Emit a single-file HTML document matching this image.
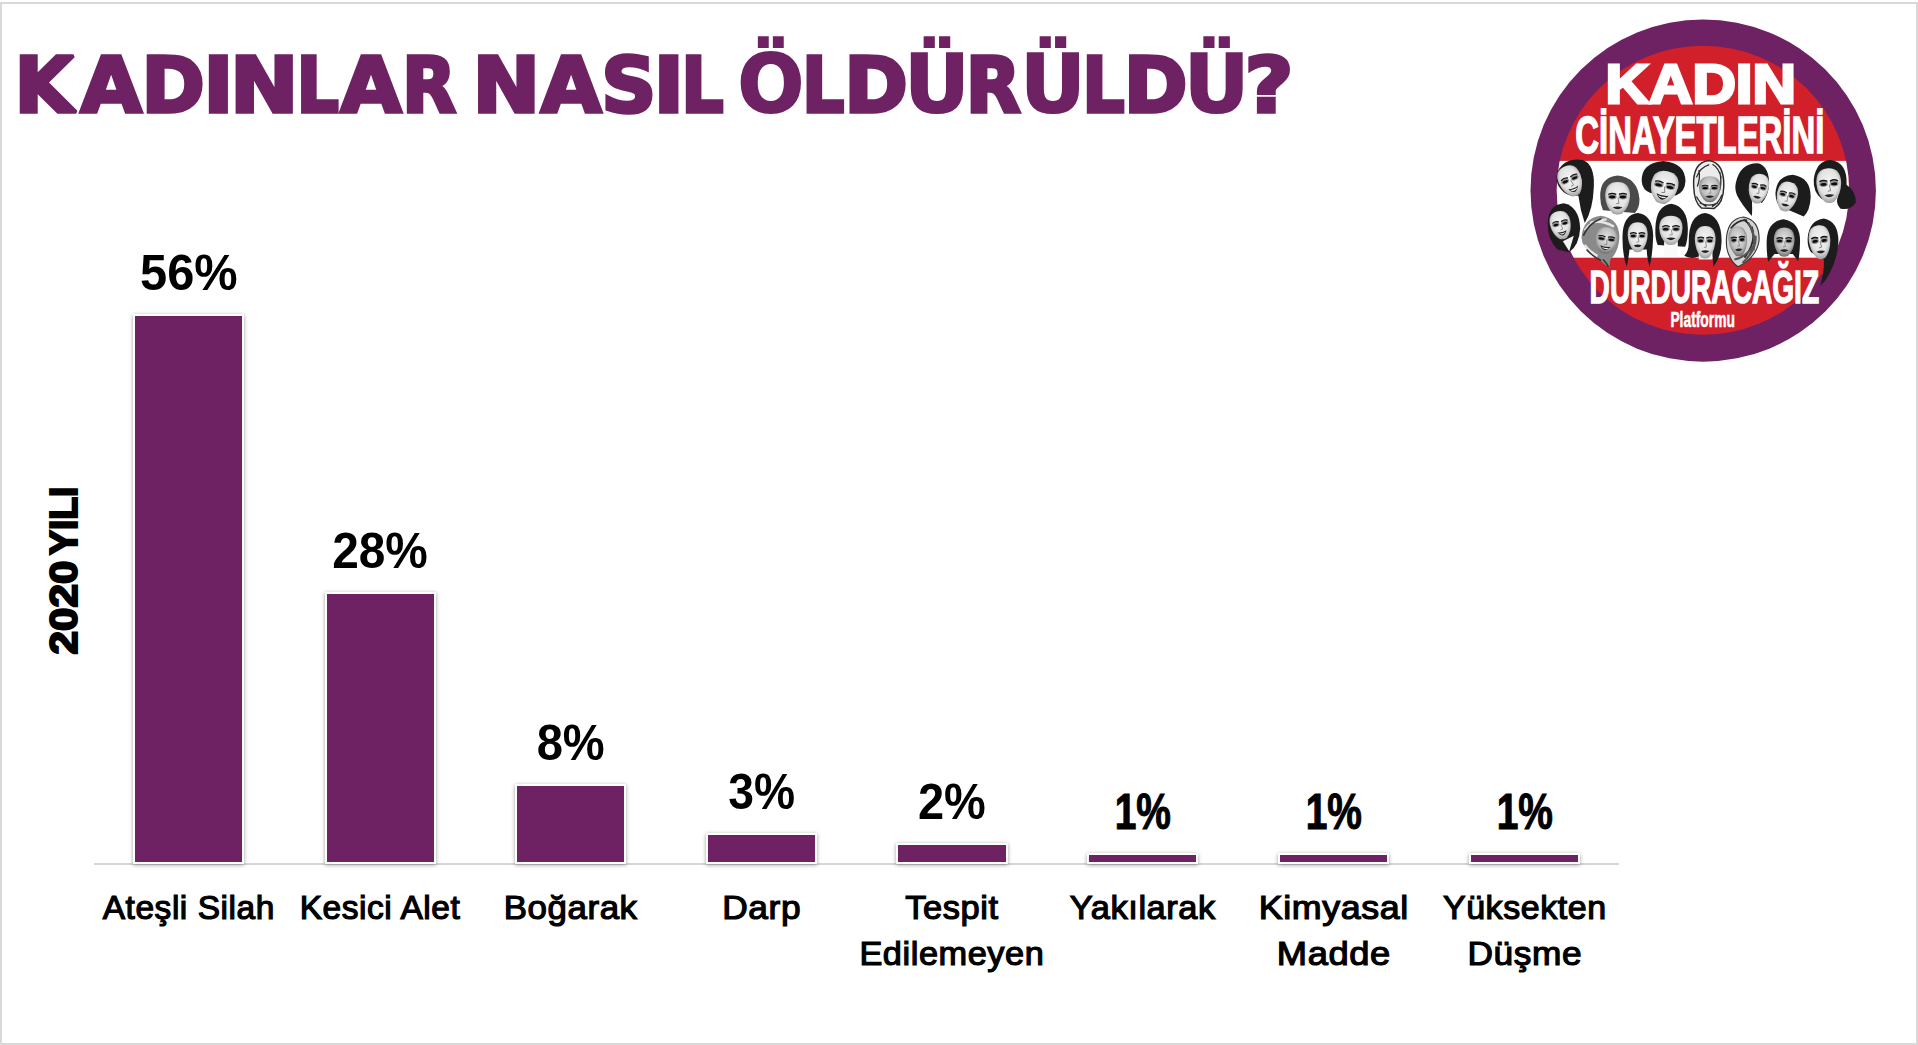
<!DOCTYPE html>
<html lang="tr"><head><meta charset="utf-8"><title>KADINLAR NASIL ÖLDÜRÜLDÜ?</title>
<style>
html,body{margin:0;padding:0;background:#fff;}
body{width:1918px;height:1045px;position:relative;overflow:hidden;font-family:"Liberation Sans",sans-serif;}
.frame{position:absolute;left:0;top:2px;width:1914px;height:1039px;border:2px solid #d9d9d9;}
.axis{position:absolute;left:94.2px;top:863px;width:1525px;height:1.6px;background:#d6d6d6;}
.bar{position:absolute;background:#6e2263;box-shadow:0 0 0 2px #fff,0 1px 4px 2px rgba(0,0,0,.38);}
svg{position:absolute;left:0;top:0;}
svg text{font-family:"Liberation Sans",sans-serif;}
.val{font-size:50.5px;font-weight:700;text-anchor:middle;fill:#000;}
.cat{font-size:33px;font-weight:400;text-anchor:middle;fill:#000;stroke:#000;stroke-width:1.2px;letter-spacing:.55px;}
.ylab{font-size:38px;font-weight:700;text-anchor:middle;fill:#000;stroke:#000;stroke-width:2px;}
</style></head>
<body>
<div class="frame"></div>
<div class="axis"></div>
<div class="bar" style="left:135.2px;top:315.8px;width:107.1px;height:546.6px"></div>
<div class="bar" style="left:326.5px;top:593.8px;width:107.0px;height:268.6px"></div>
<div class="bar" style="left:516.9px;top:785.7px;width:107.6px;height:76.7px"></div>
<div class="bar" style="left:707.9px;top:834.9px;width:107.6px;height:27.5px"></div>
<div class="bar" style="left:898.1px;top:844.9px;width:107.6px;height:17.5px"></div>
<div class="bar" style="left:1089.2px;top:854.8px;width:107.3px;height:7.6px"></div>
<div class="bar" style="left:1280.2px;top:854.8px;width:107.2px;height:7.6px"></div>
<div class="bar" style="left:1471.3px;top:854.8px;width:107.0px;height:7.6px"></div>

<svg width="1918" height="1045" viewBox="0 0 1918 1045">
<text y="111.5" font-family="DejaVu Sans, Liberation Sans, sans-serif" style="font-family:'DejaVu Sans','Liberation Sans',sans-serif" font-size="77.3" font-weight="700" fill="#6e2263" stroke="#6e2263" stroke-width="3.6" stroke-linejoin="miter" stroke-miterlimit="2.5"><tspan x="14.4" y="111.5" textLength="59.4" lengthAdjust="spacingAndGlyphs">K</tspan><tspan x="80.4" y="111.5" textLength="61.3" lengthAdjust="spacingAndGlyphs">A</tspan><tspan x="141.6" y="111.5" textLength="63.3" lengthAdjust="spacingAndGlyphs">D</tspan><tspan x="203.3" y="111.5" textLength="30.3" lengthAdjust="spacingAndGlyphs">I</tspan><tspan x="230.1" y="111.5" textLength="68.5" lengthAdjust="spacingAndGlyphs">N</tspan><tspan x="296.5" y="111.5" textLength="42.4" lengthAdjust="spacingAndGlyphs">L</tspan><tspan x="340.6" y="111.5" textLength="61.0" lengthAdjust="spacingAndGlyphs">A</tspan><tspan x="402.1" y="111.5" textLength="54.1" lengthAdjust="spacingAndGlyphs">R</tspan> <tspan x="472.5" y="111.5" textLength="67.7" lengthAdjust="spacingAndGlyphs">N</tspan><tspan x="540.7" y="111.5" textLength="60.7" lengthAdjust="spacingAndGlyphs">A</tspan><tspan x="601.3" y="111.5" textLength="55.0" lengthAdjust="spacingAndGlyphs">S</tspan><tspan x="653.6" y="111.5" textLength="30.6" lengthAdjust="spacingAndGlyphs">I</tspan><tspan x="681.2" y="111.5" textLength="42.4" lengthAdjust="spacingAndGlyphs">L</tspan> <tspan x="737.7" y="112.3" font-size="79.3" stroke-width="2.0" textLength="66.2" lengthAdjust="spacingAndGlyphs">Ö</tspan><tspan x="801.9" y="111.5" textLength="42.4" lengthAdjust="spacingAndGlyphs">L</tspan><tspan x="844.3" y="111.5" textLength="63.6" lengthAdjust="spacingAndGlyphs">D</tspan><tspan x="904.5" y="112.3" font-size="79.3" stroke-width="2.0" textLength="64.8" lengthAdjust="spacingAndGlyphs">Ü</tspan><tspan x="965.8" y="111.5" textLength="55.0" lengthAdjust="spacingAndGlyphs">R</tspan><tspan x="1020.5" y="112.3" font-size="79.3" stroke-width="2.0" textLength="64.8" lengthAdjust="spacingAndGlyphs">Ü</tspan><tspan x="1082.2" y="111.5" textLength="42.4" lengthAdjust="spacingAndGlyphs">L</tspan><tspan x="1123.7" y="111.5" textLength="63.8" lengthAdjust="spacingAndGlyphs">D</tspan><tspan x="1184.2" y="112.3" font-size="79.3" stroke-width="2.0" textLength="64.7" lengthAdjust="spacingAndGlyphs">Ü</tspan><tspan x="1244.6" y="111.5" textLength="49.0" lengthAdjust="spacingAndGlyphs">?</tspan></text>
<text class="ylab" transform="translate(76.8,570) rotate(-90)" style="text-anchor:start"><tspan x="-84.5" textLength="94" lengthAdjust="spacingAndGlyphs">2020</tspan> <tspan x="15" textLength="68.5" lengthAdjust="spacingAndGlyphs">YILI</tspan></text>
<text class="val" transform="translate(188.8,289.9) scale(0.966,1)">56%</text>
<text class="val" transform="translate(380.0,567.9) scale(0.947,1)">28%</text>
<text class="val" transform="translate(570.7,759.8) scale(0.933,1)">8%</text>
<text class="val" transform="translate(761.7,809.0) scale(0.915,1)">3%</text>
<text class="val" transform="translate(951.9,819.0) scale(0.930,1)">2%</text>
<text class="val" stroke="#000" stroke-width="1.1" transform="translate(1142.8,828.9) scale(0.771,1)">1%</text>
<text class="val" stroke="#000" stroke-width="1.1" transform="translate(1333.8,828.9) scale(0.771,1)">1%</text>
<text class="val" stroke="#000" stroke-width="1.1" transform="translate(1524.8,828.9) scale(0.771,1)">1%</text>
<text class="cat" transform="translate(188.8,918.6) scale(1.014,1)">Ateşli Silah</text>
<text class="cat" transform="translate(380.0,918.6) scale(1.015,1)">Kesici Alet</text>
<text class="cat" transform="translate(570.7,918.6) scale(1.056,1)">Boğarak</text>
<text class="cat" transform="translate(761.7,918.6) scale(1.070,1)">Darp</text>
<text class="cat" transform="translate(951.9,918.6) scale(1.043,1)">Tespit</text>
<text class="cat" transform="translate(951.9,965.1) scale(1.040,1)">Edilemeyen</text>
<text class="cat" transform="translate(1142.8,918.6) scale(1.043,1)">Yakılarak</text>
<text class="cat" transform="translate(1333.8,918.6) scale(1.085,1)">Kimyasal</text>
<text class="cat" transform="translate(1333.8,965.1) scale(1.100,1)">Madde</text>
<text class="cat" transform="translate(1524.8,918.6) scale(1.030,1)">Yüksekten</text>
<text class="cat" transform="translate(1524.8,965.1) scale(1.068,1)">Düşme</text>

<defs><radialGradient id="sk" cx=".5" cy=".42" r=".62"><stop offset="0" stop-color="#f6f6f6"/><stop offset=".62" stop-color="#e2e2e2"/><stop offset="1" stop-color="#8e8e8e"/></radialGradient><radialGradient id="sk2" cx=".5" cy=".42" r=".62"><stop offset="0" stop-color="#e6e6e6"/><stop offset=".6" stop-color="#bdbdbd"/><stop offset="1" stop-color="#5e5e5e"/></radialGradient></defs><g><ellipse cx="1703.2" cy="190.55" rx="172.7" ry="171.1" fill="#6e2263"/><ellipse cx="1702.9" cy="190.25" rx="146.2" ry="144.5" fill="#d1202a"/><clipPath id="rc"><ellipse cx="1702.9" cy="190.25" rx="146.2" ry="144.5"/></clipPath><rect x="1550" y="160.9" width="310" height="96.8" fill="#fff" clip-path="url(#rc)"/><g transform="translate(1530,150) scale(0.18248)"><path d="M150,120 Q190,40 290,55 Q355,80 350,200 Q345,330 300,400 Q275,330 265,250 Q200,260 165,210 Q135,170 150,120Z" fill="#1c1c1c"/><g transform="translate(222,170) rotate(-22)"><path d="M-64,-13 Q-64,-86 0,-86 Q64,-86 64,-13 Q61,47 22,82 Q0,91 -22,82 Q-61,47 -64,-13Z" fill="url(#sk)"/><ellipse cx="-28" cy="-9" rx="23" ry="15" fill="#444" opacity=".5"/><ellipse cx="-28" cy="-7" rx="16" ry="7" fill="#0c0c0c"/><path d="M-45,-22 q18,-9 36,0" stroke="#141414" stroke-width="7.3" fill="none" stroke-linecap="round"/><ellipse cx="28" cy="-9" rx="23" ry="15" fill="#444" opacity=".5"/><ellipse cx="28" cy="-7" rx="16" ry="7" fill="#0c0c0c"/><path d="M10,-22 q18,-9 36,0" stroke="#141414" stroke-width="7.3" fill="none" stroke-linecap="round"/><path d="M2,-4 L8,26 L-8,28" stroke="#777" stroke-width="4.3" fill="none" stroke-linejoin="round"/><path d="M-29,38 Q0,48 29,38 Q0,90 -29,38Z" fill="#1e1e1e"/><path d="M-22,46 Q0,54 22,46 Q0,69 -22,46Z" fill="#f2f2f2"/></g><path d="M385,260 Q380,150 480,140 Q590,150 600,270 Q600,320 575,345 L400,330 Q385,300 385,260Z" fill="#4a4a4a"/><g transform="translate(480,265) rotate(0)"><path d="M-68,-13 Q-68,-89 0,-89 Q68,-89 68,-13 Q65,49 24,85 Q0,94 -24,85 Q-65,49 -68,-13Z" fill="url(#sk)"/><ellipse cx="-29" cy="-9" rx="24" ry="15" fill="#444" opacity=".5"/><ellipse cx="-29" cy="-7" rx="17" ry="8" fill="#0c0c0c"/><path d="M-48,-23 q19,-9 38,0" stroke="#141414" stroke-width="7.6" fill="none" stroke-linecap="round"/><ellipse cx="29" cy="-9" rx="24" ry="15" fill="#444" opacity=".5"/><ellipse cx="29" cy="-7" rx="17" ry="8" fill="#0c0c0c"/><path d="M10,-23 q19,-9 38,0" stroke="#141414" stroke-width="7.6" fill="none" stroke-linecap="round"/><path d="M2,-4 L8,27 L-8,29" stroke="#777" stroke-width="4.5" fill="none" stroke-linejoin="round"/><path d="M-27,49 Q0,39 27,49 Q0,71 -27,49Z" fill="#222"/></g><path d="M612,170 Q610,70 730,60 Q850,70 852,170 Q850,230 800,250 L660,235 Q615,220 612,170Z" fill="#1c1c1c"/><g transform="translate(735,205) rotate(12)"><path d="M-75,-14 Q-75,-91 0,-91 Q75,-91 75,-14 Q71,50 26,86 Q0,96 -26,86 Q-71,50 -75,-14Z" fill="url(#sk)"/><ellipse cx="-32" cy="-9" rx="27" ry="15" fill="#444" opacity=".5"/><ellipse cx="-32" cy="-7" rx="19" ry="8" fill="#0c0c0c"/><path d="M-53,-24 q21,-9 42,0" stroke="#141414" stroke-width="7.7" fill="none" stroke-linecap="round"/><ellipse cx="32" cy="-9" rx="27" ry="15" fill="#444" opacity=".5"/><ellipse cx="32" cy="-7" rx="19" ry="8" fill="#0c0c0c"/><path d="M11,-24 q21,-9 42,0" stroke="#141414" stroke-width="7.7" fill="none" stroke-linecap="round"/><path d="M2,-5 L9,27 L-9,30" stroke="#777" stroke-width="4.5" fill="none" stroke-linejoin="round"/><path d="M-34,40 Q0,51 34,40 Q0,96 -34,40Z" fill="#1e1e1e"/><path d="M-26,48 Q0,57 26,48 Q0,73 -26,48Z" fill="#f2f2f2"/></g><path d="M897,200 Q890,70 980,58 Q1065,70 1062,200 Q1060,290 1010,320 L940,318 Q900,290 897,200Z" fill="#ececec" stroke="#2a2a2a" stroke-width="8"/><path d="M912,150 q20,-55 70,-70 M1000,78 q35,20 48,75 M925,110 q10,40 -8,90 M1040,120 q12,50 0,100 M912,255 q20,40 55,55 M1052,245 q-20,50 -55,65 M930,290 q50,25 100,0" stroke="#2a2a2a" stroke-width="7" fill="none"/><g transform="translate(985,215) rotate(0)"><path d="M-59,-11 Q-59,-71 0,-71 Q59,-71 59,-11 Q56,39 21,67 Q0,75 -21,67 Q-56,39 -59,-11Z" fill="url(#sk2)"/><ellipse cx="-25" cy="-7" rx="21" ry="12" fill="#444" opacity=".5"/><ellipse cx="-25" cy="-6" rx="15" ry="6" fill="#0c0c0c"/><path d="M-42,-18 q17,-7 33,0" stroke="#141414" stroke-width="6.0" fill="none" stroke-linecap="round"/><ellipse cx="25" cy="-7" rx="21" ry="12" fill="#444" opacity=".5"/><ellipse cx="25" cy="-6" rx="15" ry="6" fill="#0c0c0c"/><path d="M9,-18 q17,-7 33,0" stroke="#141414" stroke-width="6.0" fill="none" stroke-linecap="round"/><path d="M2,-4 L7,21 L-7,23" stroke="#777" stroke-width="3.6" fill="none" stroke-linejoin="round"/><path d="M-24,39 Q0,31 24,39 Q0,57 -24,39Z" fill="#222"/></g><path d="M1128,180 Q1150,70 1250,72 Q1315,90 1310,200 Q1300,260 1270,290 L1215,260 Q1220,330 1215,362 Q1160,300 1135,250 Q1120,215 1128,180Z" fill="#1c1c1c"/><g transform="translate(1252,212) rotate(10)"><path d="M-55,-12 Q-55,-82 0,-82 Q55,-82 55,-12 Q52,45 19,78 Q0,87 -19,78 Q-52,45 -55,-12Z" fill="url(#sk)"/><ellipse cx="-24" cy="-8" rx="20" ry="14" fill="#444" opacity=".5"/><ellipse cx="-24" cy="-7" rx="14" ry="7" fill="#0c0c0c"/><path d="M-39,-21 q15,-8 31,0" stroke="#141414" stroke-width="7.0" fill="none" stroke-linecap="round"/><ellipse cx="24" cy="-8" rx="20" ry="14" fill="#444" opacity=".5"/><ellipse cx="24" cy="-7" rx="14" ry="7" fill="#0c0c0c"/><path d="M8,-21 q15,-8 31,0" stroke="#141414" stroke-width="7.0" fill="none" stroke-linecap="round"/><path d="M2,-4 L7,25 L-7,27" stroke="#777" stroke-width="4.1" fill="none" stroke-linejoin="round"/><path d="M-22,45 Q0,36 22,45 Q0,66 -22,45Z" fill="#222"/></g><path d="M1345,240 Q1350,140 1440,135 Q1540,150 1538,260 Q1535,330 1500,365 L1420,330 Q1350,330 1345,240Z" fill="#1c1c1c"/><g transform="translate(1408,255) rotate(12)"><path d="M-57,-12 Q-57,-82 0,-82 Q57,-82 57,-12 Q54,45 20,78 Q0,87 -20,78 Q-54,45 -57,-12Z" fill="url(#sk)"/><ellipse cx="-25" cy="-8" rx="21" ry="14" fill="#444" opacity=".5"/><ellipse cx="-25" cy="-7" rx="14" ry="7" fill="#0c0c0c"/><path d="M-40,-21 q16,-8 32,0" stroke="#141414" stroke-width="7.0" fill="none" stroke-linecap="round"/><ellipse cx="25" cy="-8" rx="21" ry="14" fill="#444" opacity=".5"/><ellipse cx="25" cy="-7" rx="14" ry="7" fill="#0c0c0c"/><path d="M9,-21 q16,-8 32,0" stroke="#141414" stroke-width="7.0" fill="none" stroke-linecap="round"/><path d="M2,-4 L7,25 L-7,27" stroke="#777" stroke-width="4.1" fill="none" stroke-linejoin="round"/><path d="M-23,45 Q0,36 23,45 Q0,66 -23,45Z" fill="#222"/></g><path d="M1555,160 Q1570,55 1650,55 Q1740,70 1735,190 Q1790,230 1785,290 Q1750,335 1700,320 Q1670,290 1690,250 L1600,270 Q1550,230 1555,160Z" fill="#1c1c1c"/><g transform="translate(1638,195) rotate(-3)"><path d="M-68,-14 Q-68,-95 0,-95 Q68,-95 68,-14 Q65,52 24,90 Q0,101 -24,90 Q-65,52 -68,-14Z" fill="url(#sk)"/><ellipse cx="-29" cy="-10" rx="24" ry="16" fill="#444" opacity=".5"/><ellipse cx="-29" cy="-8" rx="17" ry="8" fill="#0c0c0c"/><path d="M-48,-25 q19,-10 38,0" stroke="#141414" stroke-width="8.1" fill="none" stroke-linecap="round"/><ellipse cx="29" cy="-10" rx="24" ry="16" fill="#444" opacity=".5"/><ellipse cx="29" cy="-8" rx="17" ry="8" fill="#0c0c0c"/><path d="M10,-25 q19,-10 38,0" stroke="#141414" stroke-width="8.1" fill="none" stroke-linecap="round"/><path d="M2,-5 L8,28 L-8,31" stroke="#777" stroke-width="4.8" fill="none" stroke-linejoin="round"/><path d="M-27,52 Q0,42 27,52 Q0,76 -27,52Z" fill="#222"/></g><path d="M97,400 Q100,300 185,292 Q270,310 275,430 Q270,520 215,560 L150,545 Q95,490 97,400Z" fill="#1c1c1c"/><path d="M180,500 L240,470 L215,555Z" fill="#f4f4f4"/><g transform="translate(168,412) rotate(-12)"><path d="M-57,-12 Q-57,-78 0,-78 Q57,-78 57,-12 Q54,43 20,74 Q0,83 -20,74 Q-54,43 -57,-12Z" fill="url(#sk)"/><ellipse cx="-25" cy="-8" rx="21" ry="13" fill="#444" opacity=".5"/><ellipse cx="-25" cy="-6" rx="14" ry="7" fill="#0c0c0c"/><path d="M-40,-20 q16,-8 32,0" stroke="#141414" stroke-width="6.6" fill="none" stroke-linecap="round"/><ellipse cx="25" cy="-8" rx="21" ry="13" fill="#444" opacity=".5"/><ellipse cx="25" cy="-6" rx="14" ry="7" fill="#0c0c0c"/><path d="M9,-20 q16,-8 32,0" stroke="#141414" stroke-width="6.6" fill="none" stroke-linecap="round"/><path d="M2,-4 L7,23 L-7,26" stroke="#777" stroke-width="3.9" fill="none" stroke-linejoin="round"/><path d="M-26,34 Q0,44 26,34 Q0,82 -26,34Z" fill="#1e1e1e"/><path d="M-19,41 Q0,49 19,41 Q0,62 -19,41Z" fill="#f2f2f2"/></g><path d="M282,480 Q290,370 390,360 Q490,375 490,480 Q485,560 440,600 L435,645 Q380,610 350,560 Q285,540 282,480Z" fill="#8a8a8a"/><path d="M300,440 q40,-60 120,-60 M300,520 q30,40 70,60 M330,400 q60,-20 130,20" stroke="#e6e6e6" stroke-width="13" fill="none"/><path d="M292,470 q30,-70 100,-95 M310,545 q40,45 80,60 M400,600 q20,20 30,40" stroke="#333" stroke-width="9" fill="none"/><g transform="translate(418,495) rotate(8)"><path d="M-62,-11 Q-62,-73 0,-73 Q62,-73 62,-11 Q59,40 22,69 Q0,77 -22,69 Q-59,40 -62,-11Z" fill="url(#sk2)"/><ellipse cx="-27" cy="-7" rx="22" ry="12" fill="#444" opacity=".5"/><ellipse cx="-27" cy="-6" rx="16" ry="6" fill="#0c0c0c"/><path d="M-44,-19 q17,-7 35,0" stroke="#141414" stroke-width="6.2" fill="none" stroke-linecap="round"/><ellipse cx="27" cy="-7" rx="22" ry="12" fill="#444" opacity=".5"/><ellipse cx="27" cy="-6" rx="16" ry="6" fill="#0c0c0c"/><path d="M9,-19 q17,-7 35,0" stroke="#141414" stroke-width="6.2" fill="none" stroke-linecap="round"/><path d="M2,-4 L7,22 L-7,24" stroke="#777" stroke-width="3.7" fill="none" stroke-linejoin="round"/><path d="M-29,32 Q0,41 29,32 Q0,77 -29,32Z" fill="#1e1e1e"/><path d="M-21,39 Q0,46 21,39 Q0,58 -21,39Z" fill="#f2f2f2"/></g><path d="M507,470 Q510,355 590,345 Q672,355 675,470 Q672,580 655,640 Q640,590 640,545 L545,545 Q540,600 530,640 Q505,570 507,470Z" fill="#1c1c1c"/><g transform="translate(590,478) rotate(0)"><path d="M-55,-12 Q-55,-82 0,-82 Q55,-82 55,-12 Q52,45 19,78 Q0,87 -19,78 Q-52,45 -55,-12Z" fill="url(#sk)"/><ellipse cx="-24" cy="-8" rx="20" ry="14" fill="#444" opacity=".5"/><ellipse cx="-24" cy="-7" rx="14" ry="7" fill="#0c0c0c"/><path d="M-39,-21 q15,-8 31,0" stroke="#141414" stroke-width="7.0" fill="none" stroke-linecap="round"/><ellipse cx="24" cy="-8" rx="20" ry="14" fill="#444" opacity=".5"/><ellipse cx="24" cy="-7" rx="14" ry="7" fill="#0c0c0c"/><path d="M8,-21 q15,-8 31,0" stroke="#141414" stroke-width="7.0" fill="none" stroke-linecap="round"/><path d="M2,-4 L7,25 L-7,27" stroke="#777" stroke-width="4.1" fill="none" stroke-linejoin="round"/><path d="M-22,45 Q0,36 22,45 Q0,66 -22,45Z" fill="#222"/></g><path d="M687,430 Q690,305 775,295 Q862,310 865,430 Q865,500 850,530 L700,520 Q685,490 687,430Z" fill="#1c1c1c"/><path d="M735,500 h75 v85 h-75Z" fill="#fafafa"/><g transform="translate(772,440) rotate(0)"><path d="M-64,-12 Q-64,-80 0,-80 Q64,-80 64,-12 Q61,44 22,76 Q0,85 -22,76 Q-61,44 -64,-12Z" fill="url(#sk)"/><ellipse cx="-28" cy="-8" rx="23" ry="14" fill="#444" opacity=".5"/><ellipse cx="-28" cy="-6" rx="16" ry="7" fill="#0c0c0c"/><path d="M-45,-21 q18,-8 36,0" stroke="#141414" stroke-width="6.8" fill="none" stroke-linecap="round"/><ellipse cx="28" cy="-8" rx="23" ry="14" fill="#444" opacity=".5"/><ellipse cx="28" cy="-6" rx="16" ry="7" fill="#0c0c0c"/><path d="M10,-21 q18,-8 36,0" stroke="#141414" stroke-width="6.8" fill="none" stroke-linecap="round"/><path d="M2,-4 L8,24 L-8,26" stroke="#777" stroke-width="4.0" fill="none" stroke-linejoin="round"/><path d="M-26,44 Q0,35 26,44 Q0,64 -26,44Z" fill="#222"/></g><path d="M870,500 Q870,355 960,345 Q1050,360 1050,500 Q1050,580 1005,640 L1000,585 L920,585 Q880,600 845,580 Q872,555 870,500Z" fill="#1c1c1c"/><path d="M925,555 h75 v45 h-75Z" fill="#fafafa"/><g transform="translate(960,505) rotate(0)"><path d="M-57,-13 Q-57,-89 0,-89 Q57,-89 57,-13 Q54,49 20,85 Q0,94 -20,85 Q-54,49 -57,-13Z" fill="url(#sk)"/><ellipse cx="-25" cy="-9" rx="21" ry="15" fill="#444" opacity=".5"/><ellipse cx="-25" cy="-7" rx="14" ry="8" fill="#0c0c0c"/><path d="M-40,-23 q16,-9 32,0" stroke="#141414" stroke-width="7.6" fill="none" stroke-linecap="round"/><ellipse cx="25" cy="-9" rx="21" ry="15" fill="#444" opacity=".5"/><ellipse cx="25" cy="-7" rx="14" ry="8" fill="#0c0c0c"/><path d="M9,-23 q16,-9 32,0" stroke="#141414" stroke-width="7.6" fill="none" stroke-linecap="round"/><path d="M2,-4 L7,27 L-7,29" stroke="#777" stroke-width="4.5" fill="none" stroke-linejoin="round"/><path d="M-23,49 Q0,39 23,49 Q0,71 -23,49Z" fill="#222"/></g><path d="M1078,470 Q1090,375 1170,367 Q1262,385 1255,500 Q1240,590 1140,640 Q1110,620 1095,585 Q1070,540 1078,470Z" fill="#d4d4d4" stroke="#333" stroke-width="6"/><path d="M1170,380 q60,40 55,130 M1215,420 q30,80 -40,170 M1100,430 q40,-50 90,-45" stroke="#2a2a2a" stroke-width="10" fill="none"/><path d="M1195,400 q45,60 30,150 M1235,470 q10,70 -70,150 M1120,600 q60,-10 110,-80" stroke="#555" stroke-width="12" fill="none"/><g transform="translate(1140,500) rotate(-5)"><path d="M-51,-12 Q-51,-82 0,-82 Q51,-82 51,-12 Q48,45 18,78 Q0,87 -18,78 Q-48,45 -51,-12Z" fill="url(#sk2)"/><ellipse cx="-22" cy="-8" rx="18" ry="14" fill="#444" opacity=".5"/><ellipse cx="-22" cy="-7" rx="13" ry="7" fill="#0c0c0c"/><path d="M-36,-21 q14,-8 29,0" stroke="#141414" stroke-width="7.0" fill="none" stroke-linecap="round"/><ellipse cx="22" cy="-8" rx="18" ry="14" fill="#444" opacity=".5"/><ellipse cx="22" cy="-7" rx="13" ry="7" fill="#0c0c0c"/><path d="M8,-21 q14,-8 29,0" stroke="#141414" stroke-width="7.0" fill="none" stroke-linecap="round"/><path d="M2,-4 L6,25 L-6,27" stroke="#777" stroke-width="4.1" fill="none" stroke-linejoin="round"/><path d="M-20,45 Q0,36 20,45 Q0,66 -20,45Z" fill="#222"/></g><path d="M1297,500 Q1300,390 1390,380 Q1480,395 1480,500 Q1478,570 1470,610 L1440,570 L1340,570 L1305,612 Q1295,560 1297,500Z" fill="#1c1c1c"/><g transform="translate(1393,505) rotate(0)"><path d="M-57,-12 Q-57,-80 0,-80 Q57,-80 57,-12 Q54,44 20,76 Q0,85 -20,76 Q-54,44 -57,-12Z" fill="url(#sk2)"/><ellipse cx="-25" cy="-8" rx="21" ry="14" fill="#444" opacity=".5"/><ellipse cx="-25" cy="-6" rx="14" ry="7" fill="#0c0c0c"/><path d="M-40,-21 q16,-8 32,0" stroke="#141414" stroke-width="6.8" fill="none" stroke-linecap="round"/><ellipse cx="25" cy="-8" rx="21" ry="14" fill="#444" opacity=".5"/><ellipse cx="25" cy="-6" rx="14" ry="7" fill="#0c0c0c"/><path d="M9,-21 q16,-8 32,0" stroke="#141414" stroke-width="6.8" fill="none" stroke-linecap="round"/><path d="M2,-4 L7,24 L-7,26" stroke="#777" stroke-width="4.0" fill="none" stroke-linejoin="round"/><path d="M-23,44 Q0,35 23,44 Q0,64 -23,44Z" fill="#222"/></g><path d="M1522,480 Q1530,385 1610,375 Q1690,390 1690,500 Q1685,600 1640,680 Q1620,720 1590,745 Q1615,660 1610,600 L1540,560 Q1518,530 1522,480Z" fill="#1c1c1c"/><g transform="translate(1588,505) rotate(-6)"><path d="M-59,-14 Q-59,-93 0,-93 Q59,-93 59,-14 Q56,51 21,88 Q0,99 -21,88 Q-56,51 -59,-14Z" fill="url(#sk)"/><ellipse cx="-25" cy="-9" rx="21" ry="16" fill="#444" opacity=".5"/><ellipse cx="-25" cy="-7" rx="15" ry="8" fill="#0c0c0c"/><path d="M-42,-24 q17,-9 33,0" stroke="#141414" stroke-width="7.9" fill="none" stroke-linecap="round"/><ellipse cx="25" cy="-9" rx="21" ry="16" fill="#444" opacity=".5"/><ellipse cx="25" cy="-7" rx="15" ry="8" fill="#0c0c0c"/><path d="M9,-24 q17,-9 33,0" stroke="#141414" stroke-width="7.9" fill="none" stroke-linecap="round"/><path d="M2,-5 L7,28 L-7,31" stroke="#777" stroke-width="4.7" fill="none" stroke-linejoin="round"/><path d="M-24,51 Q0,41 24,51 Q0,74 -24,51Z" fill="#222"/></g></g><g fill="#fff" stroke="#fff" font-weight="700" stroke-linejoin="miter"><text x="1605.5" y="103.2" font-size="55" stroke-width="3" textLength="190.5" lengthAdjust="spacingAndGlyphs">KADIN</text><text x="1575.3" y="153.3" font-size="51.5" stroke-width="1.5" textLength="249" lengthAdjust="spacingAndGlyphs">CİNAYETLERİNİ</text><text x="1589.6" y="303" font-size="45.3" stroke-width="1.4" textLength="229.5" lengthAdjust="spacingAndGlyphs">DURDURACAĞIZ</text><text x="1670.4" y="326.7" font-size="22" stroke-width=".6" textLength="64.5" lengthAdjust="spacingAndGlyphs">Platformu</text></g></g>
</svg>
</body></html>
